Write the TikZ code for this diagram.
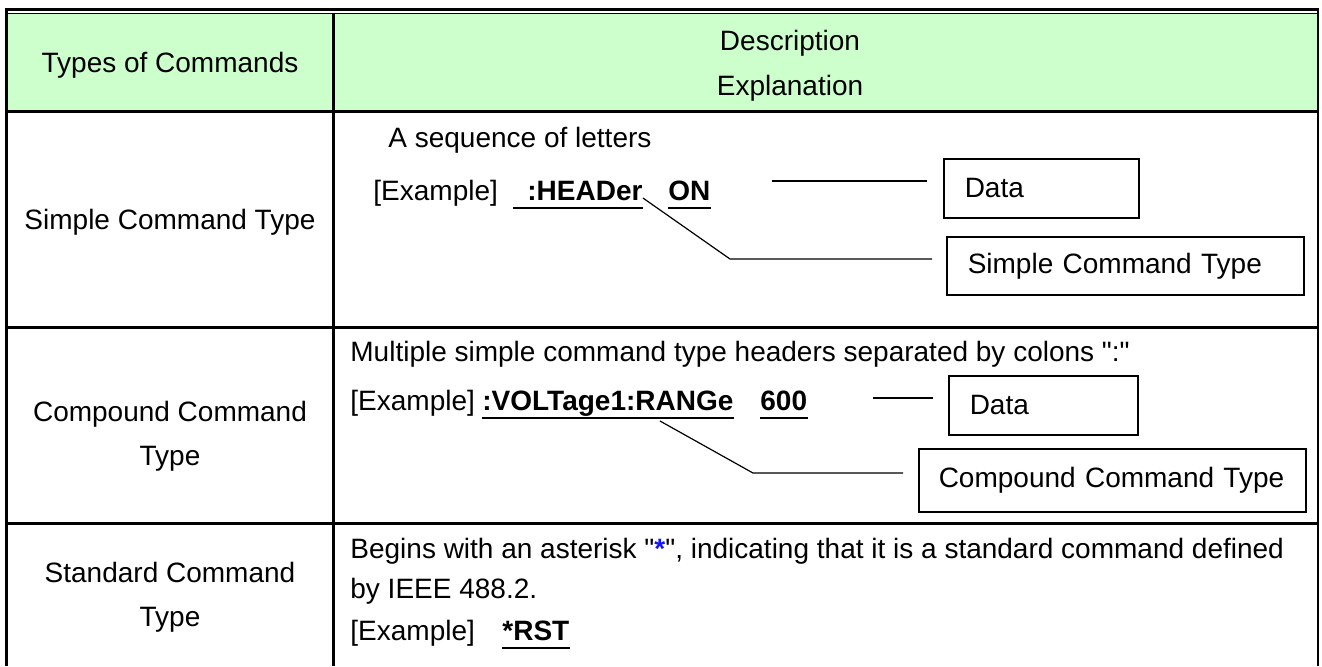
\documentclass[tikz,border=0pt]{standalone}
\usepackage{fontspec}
\setmainfont{Liberation Sans}
\definecolor{hdrgreen}{RGB}{204,255,204}
\definecolor{starblue}{RGB}{20,20,255}
\begin{document}
\begin{tikzpicture}[x=0.5pt,y=-0.5pt,
  txt/.style={anchor=base west, inner sep=0pt, font=\fontsize{14}{16}\selectfont},
  ctr/.style={anchor=base, inner sep=0pt, font=\fontsize{14}{16}\selectfont},
  cmd/.style={txt, font=\fontsize{14}{16}\selectfont\bfseries},
  uline/.style={line width=1pt},
  lead/.style={line width=0.6pt},
  tag/.style={draw, line width=0.75pt, anchor=north west, inner xsep=10.5pt,
    inner ysep=0pt, align=left, font=\fontsize{14}{16}\selectfont}]
\useasboundingbox (0,0) rectangle (1322,666);

% table frame
\fill[hdrgreen] (6,13) rectangle (1318,111);
\draw[line width=1.5pt] (4.5,9) -- (1319,9);
\draw[line width=0.75pt] (6,13.5) -- (1318,13.5);
\draw[line width=1.5pt] (6,8) -- (6,666);
\draw[line width=1.5pt] (333,13) -- (333,666);
\draw[line width=1pt] (1318,8) -- (1318,666);
\foreach \y in {111,327,523}
\draw[line width=1.5pt] (6,\y) -- (1318,\y);

% header
\node[ctr] (types) at (170,72) {Types of Commands};
\node[ctr] (descr) at (790,50) {Description};
\node[ctr] (expl) at (790,95) {Explanation};

% left column
\node[ctr] (simple) at (170,229) {Simple Command Type};
\node[ctr] (comp1) at (170,421) {Compound Command};
\node[ctr] (comp2) at (170,465) {Type};
\node[ctr] (std1) at (170,582) {Standard Command};
\node[ctr] (std2) at (170,626) {Type};

% simple command type
\node[txt] (seq) at (388,147) {A sequence of letters};
\node[txt] (ex1) at (373,200) {[Example]};
\node[cmd] (hdr) at (527,200) {:HEADer};
\node[cmd] (on) at (668,200) {ON};
\draw[uline] ([xshift=-7pt,yshift=-4pt]hdr.base west) -- ([yshift=-4pt]hdr.base east);
\draw[uline] ([yshift=-4pt]on.base west) -- ([yshift=-4pt]on.base east);
\node[tag, text width=76.5pt, minimum height=29.5pt] (data1) at (943,158) {Data};
\node[tag, text width=157.5pt, minimum height=29pt] (sct) at (946,236) {Simple Command Type};
\coordinate (d1a) at (772,181);
\coordinate (d1b) at (927,181);
\coordinate (h1) at (730,259);
\coordinate (h2) at (932,259);
\draw[lead] (d1a) -- (d1b);
\draw[lead] ([yshift=1pt]hdr.base east) -- (h1) -- (h2);

% compound command type
\node[txt] (multi) at (350,361) {Multiple simple command type headers separated by colons \textquotedbl:\textquotedbl};
\node[txt] (ex2) at (350,410) {[Example]};
\node[cmd] (volt) at (482,410) {:VOLTage1:RANGe};
\node[cmd] (six) at (760,410) {600};
\draw[uline] ([yshift=-4pt]volt.base west) -- ([yshift=-4pt]volt.base east);
\draw[uline] ([yshift=-4pt]six.base west) -- ([yshift=-4pt]six.base east);
\node[tag, text width=73.5pt, minimum height=29.5pt] (data2) at (948,375) {Data};
\node[tag, inner xsep=10pt, text width=173.5pt, minimum height=31.5pt] (cct) at (918,448) {Compound Command Type};
\coordinate (d2a) at (873,398);
\coordinate (d2b) at (933,398);
\coordinate (v0) at (660,421);
\coordinate (v1) at (753,473);
\coordinate (v2) at (903,473);
\draw[lead] (d2a) -- (d2b);
\draw[lead] (v0) -- (v1) -- (v2);

% standard command type
\node[txt] (begins) at (350,558) {Begins with an asterisk \textquotedbl{\color{starblue}\bfseries *}\textquotedbl, indicating that it is a standard command defined};
\node[txt] (ieee) at (350,598) {by IEEE 488.2.};
\node[txt] (ex3) at (350,640) {[Example]};
\node[cmd] (rst) at (502,640) {*RST};
\draw[uline] ([yshift=-4pt]rst.base west) -- ([yshift=-4pt]rst.base east);
\end{tikzpicture}
\end{document}
